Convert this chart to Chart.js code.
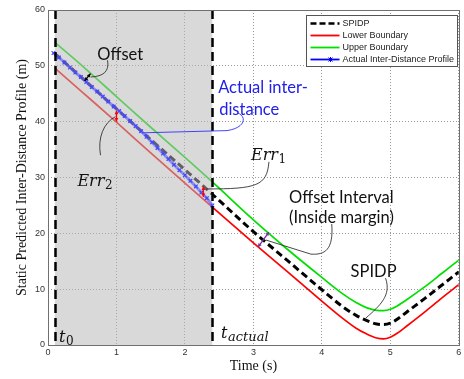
<!DOCTYPE html>
<html>
<head>
<meta charset="utf-8">
<script src="https://cdn.jsdelivr.net/npm/chart.js@4.4.1/dist/chart.umd.min.js"></script>
<style>
    html, body { margin: 0; padding: 0; background: #fff; }
</style>
</head>
<body>
<canvas id="chart" width="464" height="379"></canvas>
<script>
// DONNEES
const boundTime   = [0.1, 0.5, 1.0, 1.5, 2.0, 2.4, 3.0, 3.5, 4.0, 4.3, 4.5, 4.65, 4.8, 4.9, 5.0, 5.1, 5.25, 5.5, 5.75, 6.0];
const spidpValues = [52.2, 47.8, 42.3, 36.8, 31.4, 27.0, 20.3, 15.1, 9.9, 6.9, 5.3, 4.4, 3.75, 3.65, 3.9, 4.6, 6.0, 8.3, 10.7, 13.1];
const upperValues = [54.2, 50.0, 44.5, 39.0, 33.6, 29.2, 22.4, 17.1, 12.1, 9.2, 7.6, 6.7, 6.2, 6.15, 6.4, 7.0, 8.2, 10.4, 12.8, 15.2];
const lowerValues = [49.6, 45.3, 39.9, 34.4, 29.0, 24.7, 18.3, 13.1, 7.85, 4.8, 3.0, 2.0, 1.25, 1.1, 1.4, 2.1, 3.5, 5.9, 8.4, 10.8];

const actualTime   = [0.08, 0.16, 0.24, 0.32, 0.40, 0.48, 0.56, 0.64, 0.72, 0.80, 0.88, 0.96, 1.04, 1.12, 1.20,
                      1.28, 1.36, 1.44, 1.52, 1.60, 1.68, 1.76, 1.84, 1.92, 2.00, 2.08, 2.16, 2.24, 2.32, 2.40];
const actualValues = [52.3, 51.5, 50.6, 49.7, 48.8, 48.0, 47.1, 46.2, 45.4, 44.5, 43.6, 42.7, 41.9, 41.0, 40.1,
                      39.2, 38.3, 37.3, 36.3, 35.3, 34.3, 33.3, 32.3, 31.3, 30.4, 29.4, 28.4, 27.3, 26.3, 25.0];

const xTicks = [0, 1, 2, 3, 4, 5, 6];
const yTicks = [0, 10, 20, 30, 40, 50, 60];

// instants t0 et t_actual (zone grisée entre les deux)
const markerTimes = [0.1, 2.4];

// ANNOTATIONS (en unités des axes)
const calloutTexts = [
    {text: 'Offset', t: 0.72, v: 51.1, color: '#111'},
    {text: 'Actual inter-', t: 2.485, v: 45.2, color: '#2020e8'},
    {text: 'distance', t: 2.5, v: 41.2, color: '#2020e8'},
    {text: 'Offset Interval', t: 3.52, v: 25.5, color: '#111'},
    {text: '(Inside margin)', t: 3.52, v: 21.8, color: '#111'},
    {text: 'SPIDP', t: 4.42, v: 12.1, color: '#111'}
];
const mathLabels = [
    {base: 'Err', sub: '2', t: 0.43, v: 28.4},
    {base: 'Err', sub: '1', t: 2.965, v: 33.2},
    {base: 't', sub: '0', t: 0.16, v: 0.6},
    {base: 't', sub: 'actual', t: 2.528, v: 1.2}
];
const connectors = [
    {color: '#333', pts: [[0.870, 51.0], [0.898, 49.0], [0.811, 48.1], [0.623, 48.0]]},
    {color: '#333', pts: [[0.767, 34.0], [0.723, 37.1], [0.811, 39.8], [0.985, 40.9]]},
    {color: '#333', pts: [[3.227, 32.8], [3.198, 28.5], [3.052, 27.95], [2.31, 27.95]]},
    {color: '#333', pts: [[4.144, 21.67], [4.173, 17.0], [4.042, 16.1], [3.838, 16.28]], tail: [3.183, 18.8]},
    {color: '#333', pts: [[4.930, 11.97], [5.017, 8.92], [4.857, 7.13], [4.639, 4.79]]},
    {color: '#3030ff', head: [1.38, 38.0], pts: [[2.615, 38.4], [2.892, 38.9], [2.907, 41.05], [2.761, 41.6]]}
];
const arrows = [
    {color: '#ff0000', from: [1.0, 41.96], to: [1.0, 40.04]},
    {color: '#ff0000', from: [2.27, 28.37], to: [2.27, 26.5]},
    {color: '#7030a0', from: [3.067, 17.54], to: [3.227, 20.23]},
    {color: '#000000', from: [0.534, 47.3], to: [0.621, 48.6]}
];

function toPoints(times, values) {
    return times.map((t, i) => ({x: t, y: values[i]}));
}

function arrowHead(ctx, x1, y1, x2, y2, color) {
    const a = Math.atan2(y2 - y1, x2 - x1);
    const s = 4;
    ctx.fillStyle = color;
    ctx.beginPath();
    ctx.moveTo(x2, y2);
    ctx.lineTo(x2 - s * Math.cos(a - 0.5), y2 - s * Math.sin(a - 0.5));
    ctx.lineTo(x2 - s * Math.cos(a + 0.5), y2 - s * Math.sin(a + 0.5));
    ctx.closePath();
    ctx.fill();
}

// PLUGIN : zone grisée, repères, annotations, cadre, légende
const decorPlugin = {
    id: 'decor',
    beforeDatasetDraw(chart, args) {
        if (args.index !== 3) return;
        const {ctx, chartArea, scales} = chart;
        const x0 = scales.x.getPixelForValue(markerTimes[0]);
        const x1 = scales.x.getPixelForValue(markerTimes[1]);
        ctx.save();
        ctx.fillStyle = 'rgba(183,183,183,0.53)';
        ctx.fillRect(x0, chartArea.top, x1 - x0, chartArea.bottom - chartArea.top);
        ctx.restore();
    },
    afterDatasetsDraw(chart) {
        const {ctx, chartArea, scales} = chart;
        const X = t => scales.x.getPixelForValue(t);
        const Y = v => scales.y.getPixelForValue(v);
        ctx.save();

        // lignes verticales t0 / t_actual
        ctx.strokeStyle = '#000';
        ctx.lineWidth = 2.5;
        ctx.setLineDash([9, 5]);
        markerTimes.forEach(t => {
            ctx.beginPath();
            ctx.moveTo(Math.round(X(t)) + 0.5, chartArea.top);
            ctx.lineTo(Math.round(X(t)) + 0.5, chartArea.bottom);
            ctx.stroke();
        });
        ctx.setLineDash([]);

        // traits de rappel
        connectors.forEach(c => {
            ctx.strokeStyle = c.color;
            ctx.lineWidth = 0.9;
            ctx.beginPath();
            const p = c.pts;
            if (c.head) {
                ctx.moveTo(X(c.head[0]), Y(c.head[1]));
                ctx.lineTo(X(p[0][0]), Y(p[0][1]));
            } else {
                ctx.moveTo(X(p[0][0]), Y(p[0][1]));
            }
            ctx.bezierCurveTo(X(p[1][0]), Y(p[1][1]), X(p[2][0]), Y(p[2][1]), X(p[3][0]), Y(p[3][1]));
            if (c.tail) ctx.lineTo(X(c.tail[0]), Y(c.tail[1]));
            ctx.stroke();
        });

        // doubles flèches
        arrows.forEach(a => {
            const x1 = X(a.from[0]), y1 = Y(a.from[1]), x2 = X(a.to[0]), y2 = Y(a.to[1]);
            ctx.strokeStyle = a.color;
            ctx.lineWidth = 1.3;
            ctx.beginPath();
            ctx.moveTo(x1, y1);
            ctx.lineTo(x2, y2);
            ctx.stroke();
            arrowHead(ctx, x1, y1, x2, y2, a.color);
            arrowHead(ctx, x2, y2, x1, y1, a.color);
        });

        // textes
        ctx.textBaseline = 'alphabetic';
        ctx.textAlign = 'left';
        calloutTexts.forEach(c => {
            ctx.font = '16.5px Lato';
            ctx.fillStyle = c.color;
            ctx.fillText(c.text, X(c.t), Y(c.v));
        });
        mathLabels.forEach(m => {
            ctx.fillStyle = '#111';
            ctx.font = 'italic 16px "DejaVu Serif"';
            const x = X(m.t), y = Y(m.v);
            ctx.fillText(m.base, x, y);
            const w = ctx.measureText(m.base).width;
            ctx.font = /^\d+$/.test(m.sub) ? '12px "DejaVu Serif"' : 'italic 13px "DejaVu Serif"';
            ctx.fillText(m.sub, x + w + 0.5, y + 3);
        });
        ctx.restore();
    },
    afterDraw(chart) {
        const {ctx, chartArea} = chart;
        ctx.save();
        // cadre des axes
        ctx.strokeStyle = '#707070';
        ctx.lineWidth = 1;
        ctx.strokeRect(Math.round(chartArea.left) + 0.5, Math.round(chartArea.top) + 0.5,
            Math.round(chartArea.right - chartArea.left), Math.round(chartArea.bottom - chartArea.top));

        // légende
        const lx = 306.5, ly = 15.5, lw = 151, lh = 51;
        ctx.fillStyle = '#fff';
        ctx.fillRect(lx, ly, lw, lh);
        ctx.strokeStyle = '#555';
        ctx.strokeRect(lx, ly, lw, lh);
        ctx.font = '9px "Liberation Sans"';
        ctx.textBaseline = 'middle';
        chart.data.datasets.forEach((ds, i) => {
            const y = ly + 8 + i * 12;
            ctx.strokeStyle = ds.legendColor || ds.borderColor;
            ctx.lineWidth = ds.borderDash ? 2.5 : 1.8;
            ctx.setLineDash(ds.borderDash ? [6, 3] : []);
            ctx.beginPath();
            ctx.moveTo(lx + 4, y);
            ctx.lineTo(lx + 33, y);
            ctx.stroke();
            ctx.setLineDash([]);
            if (ds.pointRadius) {
                const cx = lx + 24;
                ctx.lineWidth = 1;
                ctx.beginPath();
                ctx.moveTo(cx - 2, y - 2); ctx.lineTo(cx + 2, y + 2);
                ctx.moveTo(cx - 2, y + 2); ctx.lineTo(cx + 2, y - 2);
                ctx.moveTo(cx, y - 2.5); ctx.lineTo(cx, y + 2.5);
                ctx.stroke();
            }
            ctx.fillStyle = '#222';
            ctx.fillText(ds.label, lx + 36, y + 0.5);
        });
        ctx.restore();
    }
};

// GRAPHIQUE
const tickFont = {family: '"Liberation Sans", Arial, sans-serif', size: 9};
const titleFont = {family: '"Liberation Serif", "Times New Roman", serif', size: 14};

new Chart(document.getElementById('chart'), {
    type: 'line',
    data: {
        datasets: [{
            label: 'SPIDP',
            data: toPoints(boundTime, spidpValues),
            borderColor: '#000',
            borderWidth: 3,
            borderDash: [7, 4],
            pointRadius: 0,
            cubicInterpolationMode: 'monotone',
            order: 1
        }, {
            label: 'Lower Boundary',
            data: toPoints(boundTime, lowerValues),
            borderColor: '#ff0000',
            borderWidth: 1.7,
            pointRadius: 0,
            cubicInterpolationMode: 'monotone',
            order: 2
        }, {
            label: 'Upper Boundary',
            data: toPoints(boundTime, upperValues),
            borderColor: '#00e000',
            borderWidth: 1.7,
            pointRadius: 0,
            cubicInterpolationMode: 'monotone',
            order: 3
        }, {
            label: 'Actual Inter-Distance Profile',
            data: toPoints(actualTime, actualValues),
            borderColor: 'rgba(80,80,255,0.55)',
            legendColor: '#0000ff',
            borderWidth: 3,
            pointStyle: 'crossRot',
            pointRadius: 2.6,
            pointBorderColor: '#4646ff',
            pointBorderWidth: 1.2,
            order: 0
        }]
    },
    options: {
        responsive: false,
        animation: false,
        layout: {padding: {top: 10, right: 3, left: 0, bottom: 0}},
        plugins: {legend: {display: false}, tooltip: {enabled: false}},
        scales: {
            x: {
                type: 'linear',
                min: 0,
                max: 6,
                afterBuildTicks: s => { s.ticks = xTicks.map(v => ({value: v})); },
                afterFit: s => { s.height = 34; },
                ticks: {font: tickFont, color: '#333', padding: 2, maxRotation: 0},
                grid: {color: '#9a9a9a', drawTicks: false},
                border: {display: false, dash: [1, 2]},
                title: {display: true, text: 'Time (s)', font: titleFont, color: '#111', padding: {bottom: 4}}
            },
            y: {
                min: 0,
                max: 60,
                afterBuildTicks: s => { s.ticks = yTicks.map(v => ({value: v})); },
                afterFit: s => { s.width = 48; },
                ticks: {font: tickFont, color: '#333', padding: 3},
                grid: {color: '#9a9a9a', drawTicks: false},
                border: {display: false, dash: [1, 2]},
                title: {display: true, text: 'Static Predicted Inter-Distance Profile (m)', font: titleFont, color: '#111', padding: {top: 14}}
            }
        }
    },
    plugins: [decorPlugin]
});
</script>
</body>
</html>
